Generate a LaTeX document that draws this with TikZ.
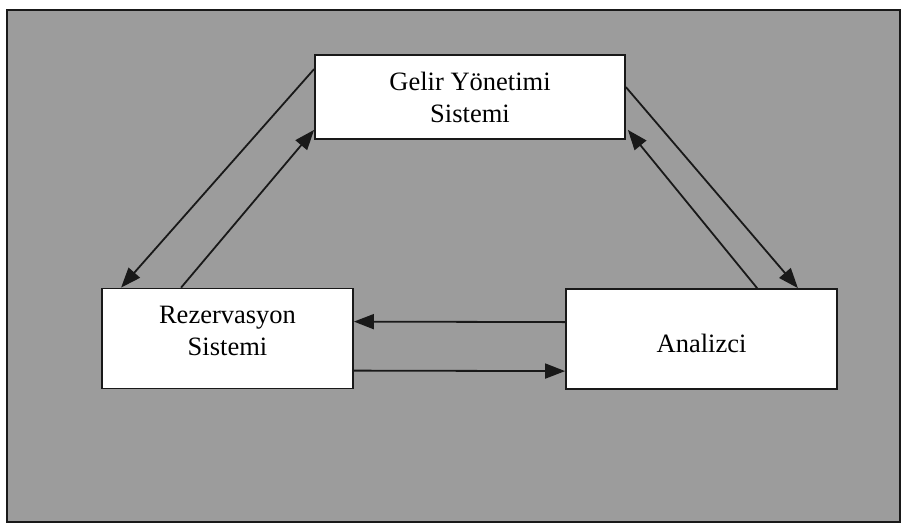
\documentclass[tikz,border=0pt]{standalone}
\usepackage{fontspec}
\setmainfont{Liberation Serif}
\usetikzlibrary{arrows.meta,calc}
\definecolor{panel}{RGB}{156,156,156}
\definecolor{ink}{RGB}{25,25,25}
% shift a label vertically without changing the size the node sees
\newcommand{\lift}[2]{\raisebox{#1}[\height][\depth]{\begin{tabular}{@{}c@{}}#2\end{tabular}}}
\begin{document}
\begin{tikzpicture}[x=1pt,y=-1pt,
  sysbox/.style={draw=ink, line width=1.8pt, fill=white, inner sep=0pt,
    align=center, font=\fontsize{26.5}{32}\selectfont},
  flow/.style={draw=ink, line width=1.8pt, -{Triangle[length=20pt,width=15pt]}}]
  \useasboundingbox (0,0) rectangle (907,528);
  % panel with frame
  \fill[white] (0,0) rectangle (907,528);
  \draw[ink, line width=1.6pt, fill=panel] (7,10) rectangle (900,522);

  % system boxes
  \node[sysbox, minimum width=310pt, minimum height=84pt] (gys) at (470,97)
    {\lift{-3pt}{Gelir Yönetimi\\Sistemi}};
  \node[sysbox, minimum width=251pt, minimum height=100pt] (rez) at (227.5,338.5)
    {\lift{5pt}{Rezervasyon\\Sistemi}};
  \node[sysbox, minimum width=271pt, minimum height=100pt] (ana) at (701.5,339)
    {\lift{-7pt}{Analizci}};

  % end points on the box borders
  \coordinate (g1) at ($(gys.north west)+(0,15)$);
  \coordinate (g2) at ($(gys.south west)+(0,-10)$);
  \coordinate (g3) at ($(gys.north east)+(0,33)$);
  \coordinate (g4) at ($(gys.south east)+(2,-10)$);
  \coordinate (r1) at ($(rez.north west)+(20,0)$);
  \coordinate (r2) at ($(rez.north west)+(80,0)$);
  \coordinate (r3) at ($(rez.north east)+(0,34)$);
  \coordinate (r4) at ($(rez.north east)+(0,83)$);
  \coordinate (a1) at ($(ana.north east)+(-40,0)$);
  \coordinate (a2) at ($(ana.north west)+(192,0)$);
  \coordinate (a3) at ($(ana.north west)+(0,34)$);
  \coordinate (a4) at ($(ana.north west)+(0,83)$);

  % information flows
  \draw[flow] (g1) -- (r1);
  \draw[flow] (r2) -- (g2);
  \draw[flow] (g3) -- (a1);
  \draw[flow] (a2) -- (g4);
  \draw[flow] (a3) -- (r3);
  \draw[flow] (r4) -- (a4);
\end{tikzpicture}
\end{document}
